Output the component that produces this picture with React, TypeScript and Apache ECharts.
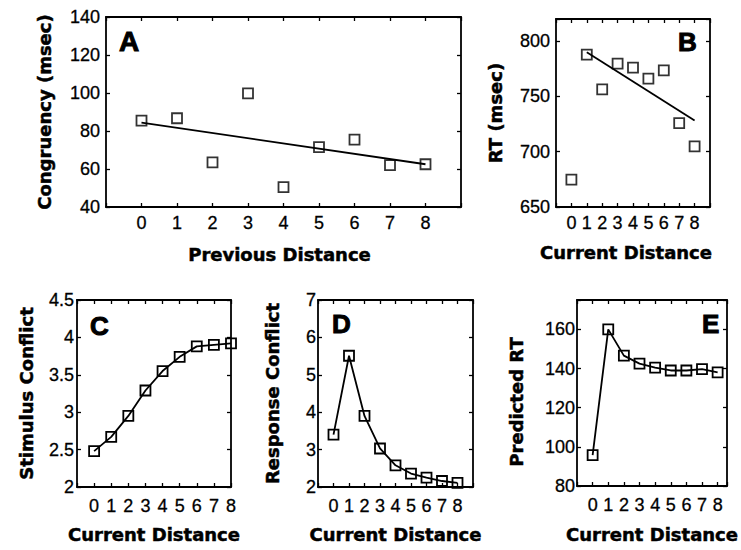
import React, { useEffect, useRef } from "react";
import * as echarts from "echarts";

// ---- data ----
const distances = [0, 1, 2, 3, 4, 5, 6, 7, 8];
const xTickLabels = [0, 1, 2, 3, 4, 5, 6, 7, 8];

const congruencyA = [85.5, 86.7, 63.5, 99.8, 50.5, 71.5, 75.5, 62, 62.5];
const regressionAx = [0, 8];
const regressionAy = [84.4, 62.5];
const yTicksA = [40, 60, 80, 100, 120, 140];

const rtB = [674.7, 787.7, 756.3, 779.6, 776, 766, 773.5, 725.9, 704.8];
const regressionBx = [1, 8];
const regressionBy = [790, 728.3];
const yTicksB = [650, 700, 750, 800];

const stimulusC = [2.48, 2.67, 2.95, 3.29, 3.55, 3.74, 3.88, 3.9, 3.92];
const yTicksC = [2, 2.5, 3, 3.5, 4, 4.5];

const responseD = [3.4, 5.51, 3.9, 3.03, 2.58, 2.36, 2.25, 2.16, 2.11];
const yTicksD = [2, 3, 4, 5, 6, 7];

const predictedE = [95.8, 160, 146.6, 142.5, 140.5, 139, 139, 139.7, 138];
const yTicksE = [80, 100, 120, 140, 160];

// ---- styling ----
const TICK_FONT = "'Liberation Sans', Arial, Helvetica, sans-serif";
const NAME_FONT = "'DejaVu Sans', 'Liberation Sans', sans-serif";
const BLACK = "#000";

type Panel = {
  grid: { left: number; top: number; width: number; height: number };
  xMin: number;
  xMax: number;
  yMin: number;
  yMax: number;
  yInterval: number;
  yTicks: number[];
  xName: string;
  yName: string;
  xNameGap: number;
  yNameGap: number;
  xLabelMargin: number;
  yLabelMargin: number;
  xNamePad?: number[];
  yNamePad?: number[];
};

const panels: Panel[] = [
  {
    grid: { left: 106, top: 17, width: 355, height: 190 },
    xMin: -1, xMax: 9, yMin: 40, yMax: 140, yInterval: 20, yTicks: yTicksA,
    xName: "Previous Distance", yName: "Congruency (msec)",
    xNameGap: 38, yNameGap: 53, xLabelMargin: 7, yLabelMargin: 6,
    xNamePad: [0, 8, 0, 0],
  },
  {
    grid: { left: 556, top: 19, width: 154, height: 188 },
    xMin: -1, xMax: 9, yMin: 650, yMax: 820, yInterval: 50, yTicks: yTicksB,
    xName: "Current Distance", yName: "RT (msec)",
    xNameGap: 36, yNameGap: 52, xLabelMargin: 7, yLabelMargin: 6,
    xNamePad: [0, 14, 0, 0],
  },
  {
    grid: { left: 77, top: 300, width: 154, height: 187 },
    xMin: -1, xMax: 8, yMin: 2, yMax: 4.5, yInterval: 0.5, yTicks: yTicksC,
    xName: "Current Distance", yName: "Stimulus Conflict",
    xNameGap: 38, yNameGap: 42, xLabelMargin: 10, yLabelMargin: 3,
  },
  {
    grid: { left: 318, top: 300, width: 155, height: 187 },
    xMin: -1, xMax: 9, yMin: 2, yMax: 7, yInterval: 1, yTicks: yTicksD,
    xName: "Current Distance", yName: "Response Conflict",
    xNameGap: 38, yNameGap: 37, xLabelMargin: 10, yLabelMargin: 2,
  },
  {
    grid: { left: 577, top: 300, width: 150, height: 186 },
    xMin: -1, xMax: 8.6, yMin: 80, yMax: 175, yInterval: 20, yTicks: yTicksE,
    xName: "Current Distance", yName: "Predicted RT",
    xNameGap: 39, yNameGap: 52, xLabelMargin: 10, yLabelMargin: 2,
    yNamePad: [0, 18, 0, 0],
  },
];

const axisLine = { show: true, onZero: false, lineStyle: { color: BLACK, width: 1.8 } };
const axisTick = { show: true, inside: true, length: 4, lineStyle: { color: BLACK, width: 1.3 } };

function buildOption() {
  const grid: any[] = [];
  const xAxis: any[] = [];
  const yAxis: any[] = [];

  const tickText = {
    color: BLACK, fontFamily: TICK_FONT, fontSize: 18,
    textBorderColor: BLACK, textBorderWidth: 0.3,
  };
  const nameText = {
    color: BLACK, fontFamily: NAME_FONT, fontWeight: "bold", fontSize: 18,
    textBorderColor: BLACK, textBorderWidth: 0.5,
  };

  panels.forEach((p, i) => {
    grid.push({ ...p.grid, containLabel: false, show: false });
    xAxis.push({
      type: "value", gridIndex: i, position: "bottom",
      min: p.xMin, max: p.xMax, interval: 1,
      axisLine, axisTick, splitLine: { show: false },
      axisLabel: {
        ...tickText, margin: p.xLabelMargin,
        formatter: (v: number) => (xTickLabels.includes(v) ? String(v) : ""),
      },
      name: p.xName, nameLocation: "middle", nameGap: p.xNameGap,
      nameTextStyle: { ...nameText, padding: p.xNamePad || [0, 0, 0, 0] },
    });
    xAxis.push({
      type: "value", gridIndex: i, position: "top",
      min: p.xMin, max: p.xMax, interval: 1,
      axisLine, axisTick, splitLine: { show: false }, axisLabel: { show: false },
    });
    yAxis.push({
      type: "value", gridIndex: i, position: "left",
      min: p.yMin, max: p.yMax, interval: p.yInterval,
      axisLine, axisTick, splitLine: { show: false },
      axisLabel: {
        ...tickText, margin: p.yLabelMargin,
        formatter: (v: number) =>
          p.yTicks.some((t) => Math.abs(t - v) < 1e-9) ? String(v) : "",
      },
      name: p.yName, nameLocation: "middle", nameGap: p.yNameGap,
      nameTextStyle: { ...nameText, padding: p.yNamePad || [0, 0, 0, 0] },
    });
    yAxis.push({
      type: "value", gridIndex: i, position: "right",
      min: p.yMin, max: p.yMax, interval: p.yInterval,
      axisLine, axisTick, splitLine: { show: false }, axisLabel: { show: false },
    });
  });

  const markerStyle = { color: "rgba(0,0,0,0)", borderColor: BLACK, borderWidth: 1.8 };
  const lineStyle = { color: BLACK, width: 1.8 };
  const pair = (xs: number[], ys: number[]) => xs.map((x, k) => [x, ys[k]]);

  const series: any[] = [
    {
      type: "line", xAxisIndex: 0, yAxisIndex: 0,
      data: pair(regressionAx, regressionAy), showSymbol: false, lineStyle,
    },
    {
      type: "scatter", xAxisIndex: 0, yAxisIndex: 0,
      data: pair(distances, congruencyA), symbol: "rect", symbolSize: 10, itemStyle: markerStyle,
    },
    {
      type: "line", xAxisIndex: 2, yAxisIndex: 2,
      data: pair(regressionBx, regressionBy), showSymbol: false, lineStyle,
    },
    {
      type: "scatter", xAxisIndex: 2, yAxisIndex: 2,
      data: pair(distances, rtB), symbol: "rect", symbolSize: 10, itemStyle: markerStyle,
    },
  ];
  const lineSets = [stimulusC, responseD, predictedE];
  lineSets.forEach((ys, k) => {
    const idx = (k + 2) * 2;
    series.push({
      type: "line", xAxisIndex: idx, yAxisIndex: idx,
      data: pair(distances, ys), symbol: "rect", symbolSize: 10, showAllSymbol: true,
      itemStyle: markerStyle, lineStyle,
    });
  });

  const letter = (text: string, x: number, y: number, size: number) => ({
    type: "text", x, y, silent: true,
    style: {
      text, fill: BLACK, textAlign: "left", textVerticalAlign: "middle",
      font: `bold ${size}px 'Liberation Sans', Arial, sans-serif`,
      stroke: BLACK, lineWidth: 1,
    },
  });

  return {
    animation: false,
    backgroundColor: "#fff",
    grid, xAxis, yAxis, series,
    graphic: [
      letter("A", 119, 41, 28),
      letter("B", 678, 42, 26),
      letter("C", 90, 326, 26),
      letter("D", 332, 324, 26),
      letter("E", 702, 324, 26),
    ],
  };
}

export default function App() {
  const ref = useRef<HTMLDivElement>(null);
  useEffect(() => {
    if (!ref.current) return;
    const chart = echarts.init(ref.current, undefined, { renderer: "svg" });
    chart.setOption(buildOption() as any);
    return () => chart.dispose();
  }, []);
  return (
    <div
      ref={ref}
      style={{ position: "fixed", left: 0, top: 0, width: 741, height: 550, background: "#fff" }}
    />
  );
}
